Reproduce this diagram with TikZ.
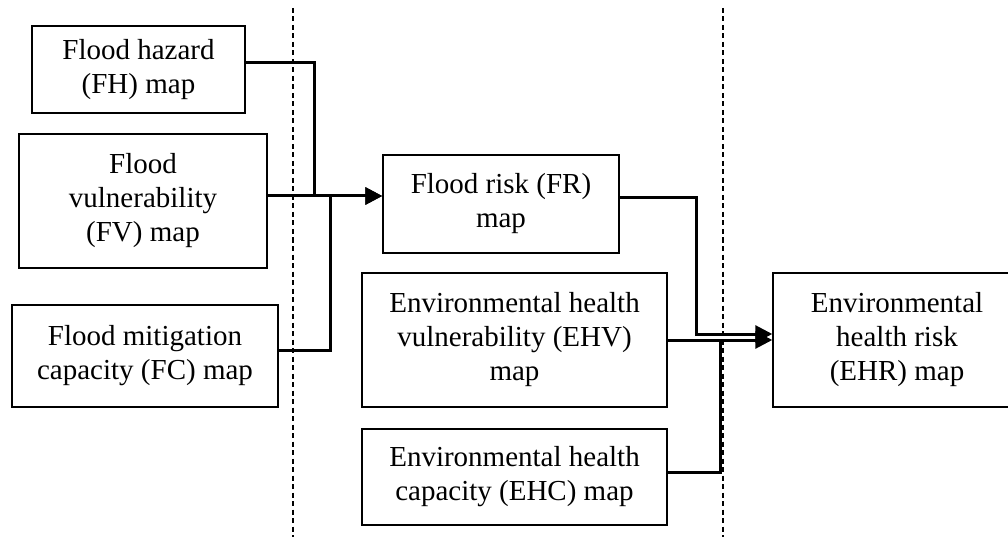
\documentclass[tikz,border=0pt]{standalone}
\usepackage{fontspec}
\setmainfont{Liberation Serif}
\usetikzlibrary{arrows.meta, calc}
\tikzset{%
  mapbox/.style={draw, line width=1.5pt, align=center, inner sep=0pt,
    font=\fontsize{29}{34}\selectfont},
  link/.style={line width=3pt},
  flow/.style={line width=3pt, -{Triangle[length=17pt, width=17pt]}},
  divider/.style={line width=1.2pt, dash pattern=on 5pt off 3.5pt}
}
\begin{document}
\begin{tikzpicture}[x=1pt, y=-1pt]
  \useasboundingbox (0,0) rectangle (1008,537);

  \draw[divider] (293,8) -- (293,537);
  \draw[divider] (723,8) -- (723,537);

  \node[mapbox, minimum width=213, minimum height=87] (fh) at (138.5,69.5) {Flood hazard\\(FH) map};
  \node[mapbox, minimum width=248, minimum height=134] (fv) at (143,201) {Flood\\vulnerability\\(FV) map};
  \node[mapbox, minimum width=266, minimum height=102] (fc) at (145,356) {Flood mitigation\\capacity (FC) map};
  \node[mapbox, minimum width=236, minimum height=98] (fr) at (501,204) {Flood risk (FR)\\map};
  \node[mapbox, minimum width=305, minimum height=134] (ehv) at (514.5,340) {Environmental health\\vulnerability (EHV)\\map};
  \node[mapbox, minimum width=305, minimum height=96] (ehc) at (514.5,477) {Environmental health\\capacity (EHC) map};
  \node[mapbox, minimum width=248, minimum height=134] (ehr) at (897,340) {Environmental\\health risk\\(EHR) map};

  \coordinate (frin) at ([yshift=8]fr.west);
  \coordinate (ehrin) at ([yshift=6]ehr.west);
  \coordinate (j1) at (314,0);
  \coordinate (j2) at (330,0);
  \coordinate (j3) at (696,0);
  \coordinate (j4) at (720,0);

  \draw[flow] ([yshift=6.5]fh.east) -| (j1 |- frin) -- (frin);
  \draw[flow] ([yshift=5]fv.east) -- (frin);
  \draw[link] ([yshift=6]fc.east) -| (j2 |- frin);

  \draw[flow] ([yshift=6]fr.east) -| (j3 |- ehrin) -- (ehrin);
  \draw[flow] (ehv.east) -- (ehr.west);
  \draw[link] ([yshift=5]ehc.east) -| (j4 |- ehr.west);
\end{tikzpicture}
\end{document}
